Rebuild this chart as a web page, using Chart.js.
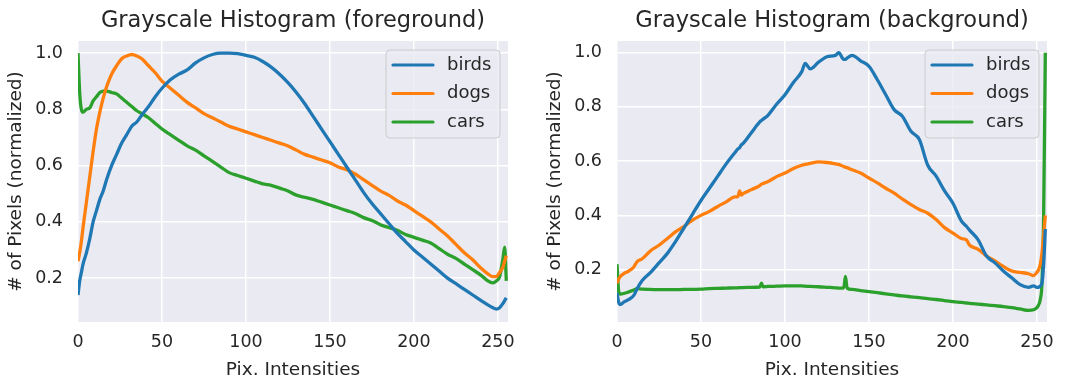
<!DOCTYPE html>
<html>
<head>
<meta charset="utf-8">
<script src="https://cdn.jsdelivr.net/npm/chart.js@4/dist/chart.umd.min.js"></script>
<style>
  body { margin: 0; background: #fff; }
  #left { position: absolute; left: 0; top: 0; }
  #right { position: absolute; left: 539px; top: 0; }
</style>
</head>
<body>
<canvas id="left" width="535" height="379"></canvas>
<canvas id="right" width="526" height="379"></canvas>
<script>
// tick positions shared by both panels
const xTicks = [0, 50, 100, 150, 200, 250];
const yTicks = [0.2, 0.4, 0.6, 0.8, 1.0];
const seriesNames = ["birds", "dogs", "cars"];

// foreground histogram
const fgX = [0, 1, 2, 3, 5, 7, 9, 11, 13, 15, 17, 20, 23, 26, 29, 32, 35, 38, 42, 46,
  50, 55, 60, 65, 70, 75, 80, 85, 90, 95, 100, 105, 110, 115, 120, 125, 130, 135, 140, 145,
  150, 155, 160, 165, 170, 175, 180, 185, 190, 195, 200, 205, 210, 215, 220, 225, 230, 235, 240, 244,
  247, 249, 251, 253, 254, 255];
const fgBirds = [0.14, 0.19, 0.22, 0.25, 0.29, 0.34, 0.40, 0.44, 0.48, 0.51, 0.55, 0.60, 0.64, 0.68, 0.71, 0.74, 0.755, 0.78, 0.81, 0.845,
  0.875, 0.905, 0.925, 0.94, 0.965, 0.983, 0.995, 1.0, 1.0, 0.998, 0.992, 0.985, 0.97, 0.95, 0.925, 0.895, 0.86, 0.82, 0.775, 0.73,
  0.685, 0.64, 0.595, 0.55, 0.505, 0.465, 0.43, 0.395, 0.36, 0.33, 0.30, 0.275, 0.25, 0.225, 0.20, 0.18, 0.16, 0.14, 0.12, 0.105,
  0.095, 0.09, 0.095, 0.11, 0.12, 0.13];
const fgDogs = [0.26, 0.29, 0.33, 0.38, 0.47, 0.56, 0.65, 0.73, 0.79, 0.84, 0.88, 0.925, 0.955, 0.98, 0.99, 0.995, 0.99, 0.98, 0.955, 0.93,
  0.90, 0.875, 0.85, 0.825, 0.805, 0.785, 0.77, 0.755, 0.74, 0.73, 0.72, 0.71, 0.70, 0.69, 0.68, 0.67, 0.655, 0.64, 0.63, 0.62,
  0.61, 0.595, 0.585, 0.57, 0.55, 0.53, 0.51, 0.495, 0.475, 0.46, 0.44, 0.42, 0.40, 0.375, 0.35, 0.32, 0.29, 0.265, 0.235, 0.215,
  0.205, 0.205, 0.22, 0.24, 0.26, 0.28];
const fgCars = [1.0, 0.86, 0.80, 0.79, 0.80, 0.805, 0.83, 0.845, 0.86, 0.865, 0.865, 0.86, 0.855, 0.84, 0.825, 0.81, 0.795, 0.785, 0.77, 0.75,
  0.73, 0.71, 0.69, 0.67, 0.655, 0.635, 0.615, 0.595, 0.575, 0.565, 0.555, 0.545, 0.535, 0.53, 0.52, 0.51, 0.495, 0.487, 0.48, 0.47,
  0.46, 0.45, 0.44, 0.43, 0.415, 0.405, 0.39, 0.38, 0.37, 0.355, 0.345, 0.335, 0.325, 0.305, 0.285, 0.27, 0.25, 0.23, 0.21, 0.19,
  0.183, 0.19, 0.205, 0.27, 0.31, 0.19];

// background histogram
const bgX = [0, 1, 2, 4, 7, 10, 12, 15, 20, 25, 30, 35, 40, 45, 50, 55, 60, 65, 70, 72,
  73, 74, 75, 80, 85, 86, 87, 90, 95, 100, 105, 110, 112, 115, 120, 125, 130, 132, 135, 136,
  137, 140, 145, 150, 155, 160, 165, 170, 175, 180, 185, 190, 195, 200, 205, 208, 210, 215, 220, 225,
  230, 235, 240, 245, 248, 250, 251, 252, 253, 254, 255];
const bgBirds = [0.115, 0.08, 0.072, 0.08, 0.09, 0.105, 0.13, 0.16, 0.19, 0.225, 0.26, 0.305, 0.355, 0.405, 0.455, 0.50, 0.545, 0.59, 0.63, 0.645,
  0.65, 0.66, 0.665, 0.705, 0.745, 0.75, 0.755, 0.77, 0.81, 0.845, 0.89, 0.93, 0.96, 0.94, 0.965, 0.985, 0.99, 1.0, 0.975, 0.975,
  0.98, 0.99, 0.97, 0.95, 0.90, 0.845, 0.79, 0.765, 0.71, 0.68, 0.585, 0.545, 0.49, 0.445, 0.38, 0.36, 0.345, 0.31, 0.25, 0.225,
  0.195, 0.17, 0.145, 0.135, 0.14, 0.135, 0.135, 0.14, 0.15, 0.22, 0.35];
const bgDogs = [0.15, 0.165, 0.175, 0.185, 0.195, 0.21, 0.23, 0.24, 0.27, 0.29, 0.315, 0.34, 0.36, 0.383, 0.40, 0.415, 0.433, 0.45, 0.468, 0.47,
  0.49, 0.475, 0.48, 0.495, 0.51, 0.515, 0.518, 0.525, 0.543, 0.556, 0.573, 0.585, 0.588, 0.592, 0.597, 0.595, 0.59, 0.588, 0.58, 0.578,
  0.576, 0.568, 0.556, 0.538, 0.52, 0.50, 0.482, 0.46, 0.44, 0.422, 0.408, 0.385, 0.355, 0.335, 0.315, 0.31, 0.29, 0.275, 0.25, 0.232,
  0.212, 0.195, 0.19, 0.185, 0.178, 0.19, 0.20, 0.22, 0.26, 0.33, 0.40];
const bgCars = [0.22, 0.12, 0.11, 0.112, 0.118, 0.125, 0.13, 0.128, 0.127, 0.126, 0.126, 0.126, 0.127, 0.127, 0.128, 0.13, 0.131, 0.132, 0.133, 0.133,
  0.134, 0.134, 0.134, 0.135, 0.136, 0.15, 0.137, 0.138, 0.139, 0.14, 0.14, 0.14, 0.139, 0.138, 0.137, 0.135, 0.133, 0.132, 0.133, 0.175,
  0.132, 0.127, 0.123, 0.119, 0.115, 0.111, 0.107, 0.103, 0.10, 0.097, 0.093, 0.09, 0.086, 0.082, 0.079, 0.077, 0.076, 0.073, 0.07, 0.067,
  0.064, 0.06, 0.055, 0.05, 0.052, 0.06, 0.07, 0.09, 0.15, 0.40, 1.0];

const colors = ["#1f77b4", "#ff7f0e", "#2ca02c"];
const textColor = "#262626";
const fontFamily = '"DejaVu Sans", sans-serif';

// grey plot area like seaborn darkgrid
const plotBackground = {
  id: "plotBackground",
  beforeDraw(chart) {
    const { ctx, chartArea } = chart;
    ctx.save();
    ctx.fillStyle = "#eaeaf2";
    ctx.fillRect(chartArea.left, chartArea.top, chartArea.width, chartArea.height);
    ctx.restore();
  },
};

// legend box in the upper right corner of the plot
const innerLegend = {
  id: "innerLegend",
  afterDatasetsDraw(chart) {
    const { ctx, chartArea } = chart;
    const w = 114, h = 88;
    const x0 = chartArea.right - 8 - w;
    const y0 = chartArea.top + 9;
    ctx.save();
    ctx.beginPath();
    ctx.roundRect(x0, y0, w, h, 4);
    ctx.fillStyle = "rgba(234,234,242,0.8)";
    ctx.fill();
    ctx.strokeStyle = "#cccccc";
    ctx.lineWidth = 1;
    ctx.stroke();
    ctx.font = "18px " + fontFamily;
    ctx.textBaseline = "middle";
    chart.data.datasets.forEach((ds, i) => {
      const y = y0 + 15 + i * 28.5;
      ctx.strokeStyle = ds.borderColor;
      ctx.lineWidth = 3.2;
      ctx.lineCap = "round";
      ctx.beginPath();
      ctx.moveTo(x0 + 7, y);
      ctx.lineTo(x0 + 47, y);
      ctx.stroke();
      ctx.fillStyle = textColor;
      ctx.fillText(ds.label, x0 + 61, y);
    });
    ctx.restore();
  },
};

function toPoints(xs, ys) {
  return xs.map((x, i) => ({ x: x, y: ys[i] }));
}

function makeChart(id, title, xs, series, yMin, rightPad) {
  return new Chart(document.getElementById(id), {
    type: "line",
    data: {
      datasets: series.map((ys, i) => ({
        label: seriesNames[i],
        data: toPoints(xs, ys),
        borderColor: colors[i],
        borderWidth: 3.3,
        pointRadius: 0,
        cubicInterpolationMode: "monotone",
        fill: false,
      })),
    },
    options: {
      responsive: false,
      animation: false,
      layout: { padding: { left: 0, right: rightPad, top: 0, bottom: 0 } },
      plugins: {
        legend: { display: false },
        tooltip: { enabled: false },
        title: {
          display: true,
          text: title,
          fullSize: false,
          color: textColor,
          font: { family: fontFamily, size: 22.5, weight: "normal", lineHeight: 1.2 },
          padding: { top: 8, bottom: 6 },
        },
      },
      scales: {
        x: {
          type: "linear",
          min: 0,
          max: 256,
          afterFit: (s) => { s.height = 57; },
          afterBuildTicks: (s) => { s.ticks = xTicks.map((v) => ({ value: v })); },
          border: { display: false },
          grid: { color: "#ffffff", lineWidth: 1.5, drawTicks: false },
          ticks: {
            color: textColor,
            padding: 10,
            font: { family: fontFamily, size: 17.5 },
            callback: (v) => String(v),
          },
          title: {
            display: true,
            text: "Pix. Intensities",
            color: textColor,
            font: { family: fontFamily, size: 18.5, lineHeight: 1 },
            padding: { top: 0, bottom: 0 },
          },
        },
        y: {
          type: "linear",
          min: yMin,
          max: 1.043,
          afterFit: (s) => { s.width = 78; },
          afterBuildTicks: (s) => { s.ticks = yTicks.map((v) => ({ value: v })); },
          border: { display: false },
          grid: { color: "#ffffff", lineWidth: 1.5, drawTicks: false },
          ticks: {
            color: textColor,
            padding: 15,
            font: { family: fontFamily, size: 17.5 },
            callback: (v) => v.toFixed(1),
          },
          title: {
            display: true,
            text: "# of Pixels (normalized)",
            color: textColor,
            font: { family: fontFamily, size: 18.5, lineHeight: 1.2 },
            padding: { top: 5, bottom: 0 },
          },
        },
      },
    },
    plugins: [plotBackground, innerLegend],
  });
}

makeChart("left", "Grayscale Histogram (foreground)", fgX, [fgBirds, fgDogs, fgCars], 0.044, 27);
makeChart("right", "Grayscale Histogram (background)", bgX, [bgBirds, bgDogs, bgCars], 0.007, 18);
</script>
</body>
</html>
